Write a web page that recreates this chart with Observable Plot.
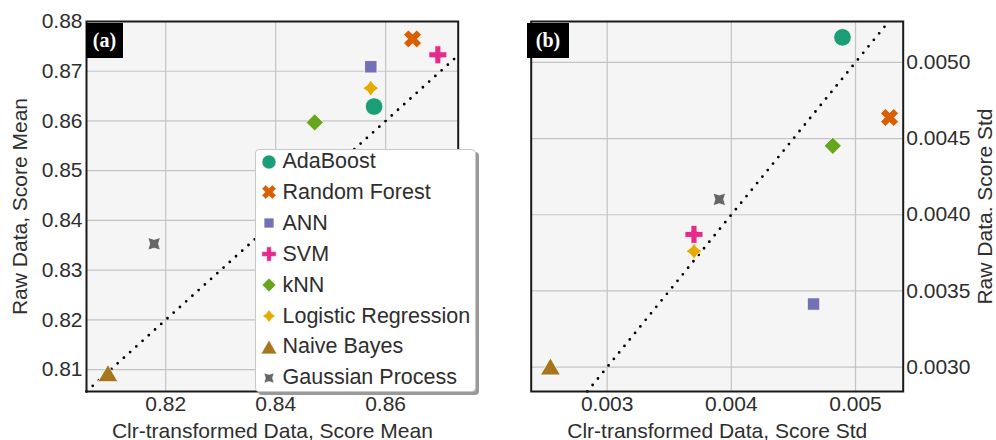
<!DOCTYPE html>
<html>
<head>
<meta charset="utf-8">
<script src="https://cdn.jsdelivr.net/npm/d3@7"></script>
<script src="https://cdn.jsdelivr.net/npm/@observablehq/plot@0.6"></script>
<style>
  html, body { margin: 0; padding: 0; background: #fff; }
  #wrap { position: relative; width: 996px; height: 440px; overflow: hidden; font-family: "Liberation Sans", Arial, sans-serif; color: #2e2e2e; }
  .panel { position: absolute; top: 0; }
  .tag { position: absolute; top: 23px; height: 35px; background: #000; color: #fff; font: bold 20px "Liberation Serif", "Times New Roman", serif; display: flex; align-items: center; justify-content: center; }
  #legend { position: absolute; left: 255px; top: 149px; width: 221px; height: 243px; background: #fff; border: 1px solid #c8c8c8; border-radius: 4px; box-shadow: 3px 3px 0 #9a9a9a; box-sizing: border-box; }
  .row { position: absolute; left: 0; height: 30px; display: flex; align-items: center; font-size: 21.5px; color: #2e2e2e; white-space: nowrap; }
  .row svg { width: 26px; height: 26px; }
</style>
</head>
<body>
<div id="wrap">
  <div id="pa" class="panel" style="left:0px"></div>
  <div id="pb" class="panel" style="left:490px"></div>
  <div class="tag" style="left:86px;width:37px">(a)</div>
  <div class="tag" style="left:527px;width:42px">(b)</div>
  <div id="legend"></div>
</div>
<script>
// ---- data ----
const methods = ["AdaBoost", "Random Forest", "ANN", "SVM", "kNN", "Logistic Regression", "Naive Bayes", "Gaussian Process"];
const colors = ["#1b9e77", "#d95f02", "#7570b3", "#e7298a", "#66a61e", "#e6ab02", "#a6761d", "#666666"];
const clrMean = [0.8579, 0.8649, 0.8573, 0.8695, 0.8471, 0.8573, 0.8095, 0.8179];
const rawMean = [0.8629, 0.8765, 0.8709, 0.8733, 0.8597, 0.8666, 0.8093, 0.8353];
const clrStd = [0.004895, 0.005274, 0.004662, 0.003699, 0.004817, 0.003699, 0.002543, 0.003903];
const rawStd = [0.005164, 0.004638, 0.003414, 0.003871, 0.004452, 0.003761, 0.003005, 0.004101];
const xTicksA = [0.82, 0.84, 0.86];
const yTicksA = [0.81, 0.82, 0.83, 0.84, 0.85, 0.86, 0.87, 0.88];
const xTicksB = [0.003, 0.004, 0.005];
const yTicksB = [0.0030, 0.0035, 0.0040, 0.0045, 0.0050];
const xDomainA = [0.8056, 0.8732];
const yDomainA = [0.8056, 0.8800];
const xDomainB = [0.002388, 0.005384];
const yDomainB = [0.00284, 0.005268];

// ---- symbols ----
function poly(pts) {
  return {draw(ctx) { ctx.moveTo(pts[0][0], pts[0][1]); for (let i = 1; i < pts.length; i++) ctx.lineTo(pts[i][0], pts[i][1]); ctx.closePath(); }};
}
function plusPts(L, w) {
  return [[-w,-L],[w,-L],[w,-w],[L,-w],[L,w],[w,w],[w,L],[-w,L],[-w,w],[-L,w],[-L,-w],[-w,-w]];
}
function rot(pts, a) { const c = Math.cos(a), s = Math.sin(a); return pts.map(([x,y]) => [x*c - y*s, x*s + y*c]); }
const circleSym = {draw(ctx) { ctx.moveTo(8.8, 0); ctx.arc(0, 0, 8.8, 0, 2*Math.PI); ctx.closePath(); }};
const timesSym = poly(rot(plusPts(9.3, 3.4), Math.PI/4));
const squareSym = poly([[-6.2,-6.2],[6.2,-6.2],[6.2,6.2],[-6.2,6.2]]);
const plusSym = poly(plusPts(9, 3));
const diamondSym = poly([[0,-8.6],[8.6,0],[0,8.6],[-8.6,0]]);
const starSym = poly([[0,-8.2],[3.3,-3.3],[8.2,0],[3.3,3.3],[0,8.2],[-3.3,3.3],[-8.2,0],[-3.3,-3.3]]);
const triSym = poly([[0,-8.6],[10,8.6],[-10,8.6]]);
const gpSym = poly([[-6.3,-6.3],[0,-4.4],[6.3,-6.3],[4.4,0],[6.3,6.3],[0,4.4],[-6.3,6.3],[-4.4,0]]);
const symbols = [circleSym, timesSym, squareSym, plusSym, diamondSym, starSym, triSym, gpSym];

function dots(xs, ys) {
  return methods.map((m, i) => Plot.dot([{x: xs[i], y: ys[i]}], {x: "x", y: "y", r: 8, symbol: symbols[i], fill: colors[i], stroke: "white", strokeWidth: 0.8}));
}

const common = {
  height: 440,
  marginTop: 21,
  marginBottom: 49,
  style: {fontFamily: "'Liberation Sans', Arial, sans-serif", fontSize: "21px", color: "#2e2e2e", background: "transparent", overflow: "visible"}
};
const gridStyle = {stroke: "#c4c4c4", strokeOpacity: 1, strokeWidth: 1.2};
const diagStyle = {stroke: "#000", strokeWidth: 2.8, strokeDasharray: "0,8.4", strokeLinecap: "round"};

const lo = Math.max(xDomainA[0], yDomainA[0]), hi = Math.min(xDomainA[1], yDomainA[1]);
const plotA = Plot.plot({
  ...common,
  width: 490,
  marginLeft: 86,
  marginRight: 32.3,
  x: {domain: xDomainA},
  y: {domain: yDomainA},
  marks: [
    Plot.frame({fill: "#f5f5f5", stroke: null}),
    Plot.gridX(xTicksA, gridStyle),
    Plot.gridY(yTicksA, gridStyle),
    Plot.line([{x: lo, y: lo}, {x: hi, y: hi}], {x: "x", y: "y", ...diagStyle}),
    ...dots(clrMean, rawMean),
    Plot.frame({stroke: "#1a1a1a", strokeWidth: 2}),
    Plot.axisX(xTicksA, {tickSize: 0, tickPadding: 5, tickFormat: d3.format(".2f"), label: "Clr-transformed Data, Score Mean", labelAnchor: "center", labelArrow: "none", labelOffset: 46, fontSize: 21}),
    Plot.axisY(yTicksA, {tickSize: 0, tickPadding: 4, tickFormat: d3.format(".2f"), label: "Raw Data, Score Mean", labelAnchor: "center", labelArrow: "none", labelOffset: 74, fontSize: 21})
  ]
});
document.getElementById("pa").appendChild(plotA);

const loB = Math.max(xDomainB[0], yDomainB[0]), hiB = Math.min(xDomainB[1], yDomainB[1]);
const plotB = Plot.plot({
  ...common,
  width: 506,
  marginLeft: 40.7,
  marginRight: 93.3,
  x: {domain: xDomainB},
  y: {domain: yDomainB},
  marks: [
    Plot.frame({fill: "#f5f5f5", stroke: null}),
    Plot.gridX(xTicksB, gridStyle),
    Plot.gridY(yTicksB, gridStyle),
    Plot.line([{x: loB, y: loB}, {x: hiB, y: hiB}], {x: "x", y: "y", ...diagStyle}),
    ...dots(clrStd, rawStd),
    Plot.frame({stroke: "#1a1a1a", strokeWidth: 2}),
    Plot.axisX(xTicksB, {tickSize: 0, tickPadding: 5, tickFormat: d3.format(".3f"), label: "Clr-transformed Data, Score Std", labelAnchor: "center", labelArrow: "none", labelOffset: 46, fontSize: 21}),
    Plot.axisY(yTicksB, {anchor: "right", tickSize: 0, tickPadding: 3, tickFormat: d3.format(".4f"), label: "Raw Data. Score Std", labelAnchor: "center", labelArrow: "none", labelOffset: 88.5, fontSize: 21})
  ]
});
document.getElementById("pb").appendChild(plotB);

// ---- legend ----
const legend = document.getElementById("legend");
methods.forEach((m, i) => {
  const row = document.createElement("div");
  row.className = "row";
  row.style.top = (11.5 + i * 30.9 - 15) + "px";
  row.style.left = "0px";
  const p = d3.path();
  symbols[i].draw(p, 64);
  row.innerHTML = `<svg viewBox="-13 -13 26 26"><path d="${p.toString()}" transform="scale(0.8)" fill="${colors[i]}" stroke="white" stroke-width="0.8"/></svg><span style="margin-left:0.5px">${m}</span>`;
  legend.appendChild(row);
});
</script>
</body>
</html>
